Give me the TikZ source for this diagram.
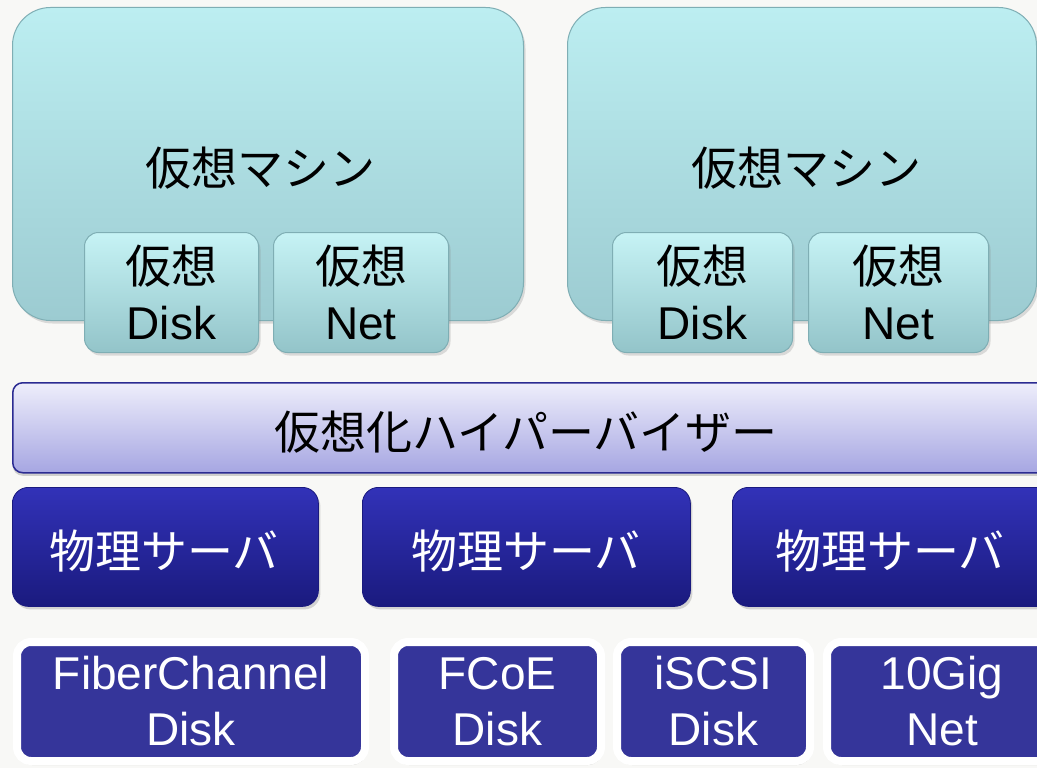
\documentclass[tikz,border=0pt]{standalone}
\usepackage{fontspec}
\setmainfont{Liberation Sans}
\newfontfamily\jp{Noto Sans CJK JP}
\usetikzlibrary{shadows}
\definecolor{bgc}{HTML}{F8F8F6}
\definecolor{vmtop}{HTML}{BCEEF1}
\definecolor{vmbot}{HTML}{9CCBD1}
\definecolor{vmedge}{HTML}{7FAEB4}
\definecolor{subtop}{HTML}{C6F3F5}
\definecolor{subbot}{HTML}{93C4C9}
\definecolor{hytop}{HTML}{EEEEFB}
\definecolor{hybot}{HTML}{A6A6E2}
\definecolor{hyedge}{HTML}{2B2B92}
\definecolor{phtop}{HTML}{3232B8}
\definecolor{phbot}{HTML}{1A1A7E}
\definecolor{hwfill}{HTML}{35359A}
\tikzset{
  big/.style={font=\fontsize{46}{56}\selectfont},
  vmbox/.style={anchor=north west, inner sep=0pt, rounded corners=38pt,
    top color=vmtop, bottom color=vmbot, draw=vmedge, line width=1pt,
    drop shadow={shadow xshift=2pt, shadow yshift=-3pt, opacity=0.25}},
  subbox/.style={anchor=north west, inner sep=0pt, rounded corners=14pt,
    top color=subtop, bottom color=subbot, draw=vmedge, line width=1pt,
    minimum height=120pt, align=center, big,
    drop shadow={shadow xshift=2pt, shadow yshift=-3pt, opacity=0.25}},
  hyper/.style={anchor=north west, inner sep=0pt, rounded corners=10pt,
    top color=hytop, bottom color=hybot, draw=hyedge, line width=1.5pt,
    minimum height=90pt, big,
    drop shadow={shadow xshift=0pt, shadow yshift=-3pt, opacity=0.35}},
  phys/.style={anchor=north west, inner sep=0pt, rounded corners=16pt,
    top color=phtop, bottom color=phbot, draw=phbot, line width=0.8pt,
    minimum height=119pt,
    drop shadow={shadow xshift=2pt, shadow yshift=-3pt, opacity=0.3}},
  hw/.style={anchor=north west, inner sep=0pt, rounded corners=14pt,
    fill=hwfill, draw=white, line width=8pt, minimum height=119pt,
    text=white, align=center, big,
    drop shadow={shadow xshift=1pt, shadow yshift=-4pt, opacity=0.35}},
  lbl/.style={big, inner sep=0pt},
  wlbl/.style={big, inner sep=0pt, text=white}
}
\begin{document}
\begin{tikzpicture}[x=1pt,y=-1pt]
\fill[bgc] (0,0) rectangle (1037,768);
\useasboundingbox (0,0) rectangle (1037,768);
\clip (0,0) rectangle (1037,768);

% virtual machines
\node[vmbox, minimum width=511pt, minimum height=313pt] (vm1) at (12,7) {};
\node[lbl] (vm1t) at (260,168) {\jp 仮想マシン};
\node[subbox, minimum width=174pt] (vd1) at (84,232) {{\jp 仮想}\\Disk};
\node[subbox, minimum width=175pt] (vn1) at (273,232) {{\jp 仮想}\\Net};

\node[vmbox, minimum width=469pt, minimum height=313pt] (vm2) at (567,7) {};
\node[lbl] (vm2t) at (806,168) {\jp 仮想マシン};
\node[subbox, minimum width=180pt] (vd2) at (612,232) {{\jp 仮想}\\Disk};
\node[subbox, minimum width=180pt] (vn2) at (808,232) {{\jp 仮想}\\Net};

% hypervisor
\node[hyper, minimum width=1040pt] (hv) at (12,382) {};
\node[lbl] (hvt) at (526,432) {\jp 仮想化ハイパーバイザー};

% physical servers
\node[phys, minimum width=306pt] (ps1) at (12,487) {};
\node[wlbl] (ps1t) at (164,551) {\jp 物理サーバ};
\node[phys, minimum width=328pt] (ps2) at (362,487) {};
\node[wlbl] (ps2t) at (526,551) {\jp 物理サーバ};
\node[phys, minimum width=320pt] (ps3) at (732,487) {};
\node[wlbl] (ps3t) at (890,551) {\jp 物理サーバ};

% hardware
\node[hw, minimum width=348pt] (fc) at (13,638) {FiberChannel\\Disk};
\node[hw, minimum width=207pt] (fcoe) at (390,638) {FCoE\\Disk};
\node[hw, minimum width=193pt] (iscsi) at (613,638) {iSCSI\\Disk};
\node[hw, minimum width=230pt] (tg) at (823,638) {10Gig\\Net};
\end{tikzpicture}
\end{document}
